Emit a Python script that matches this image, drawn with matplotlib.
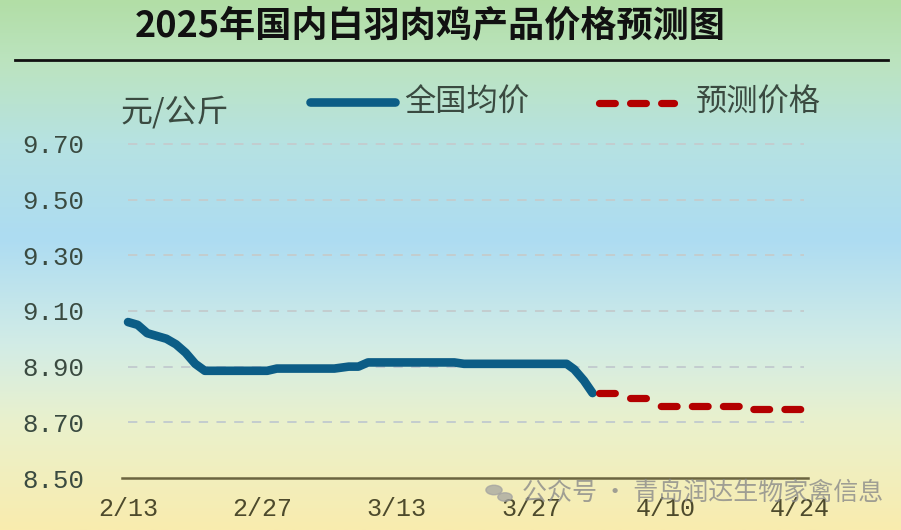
import matplotlib.pyplot as plt
import numpy as np
from matplotlib.lines import Line2D
from matplotlib.colors import LinearSegmentedColormap

plt.rcParams['font.family'] = ['Noto Sans CJK SC', 'DejaVu Sans']

# 数据：以 2/13 为第 0 天
blue_days = [0, 1, 2, 3, 4, 5, 6, 7, 8, 14.5, 15.5, 21.5, 23, 24, 25, 34, 35, 45.7, 46.5, 47.5, 48.4]
blue_vals = [9.06, 9.05, 9.02, 9.01, 9.00, 8.98, 8.95, 8.91, 8.885, 8.885, 8.893, 8.893,
             8.90, 8.90, 8.915, 8.915, 8.91, 8.91, 8.89, 8.85, 8.805]
# 预测价格：分段水平
pred_start = [48.4, 51.94, 55.0, 64.65]
pred_end = [51.94, 55.0, 64.65, 70.3]
pred_vals = [8.805, 8.787, 8.759, 8.748]

xtick_pos = [0, 14, 28, 42, 56, 70]
xtick_labels = ["2/13", "2/27", "3/13", "3/27", "4/10", "4/24"]
ytick_vals = [8.50, 8.70, 8.90, 9.10, 9.30, 9.50, 9.70]

fig = plt.figure(figsize=(9.01, 5.30), dpi=100)

# 背景渐变
bg = fig.add_axes([0, 0, 1, 1], zorder=0)
cmap = LinearSegmentedColormap.from_list("bg", [
    (0.00, "#b2dea6"),
    (0.12, "#bce4c0"),
    (0.27, "#b6e2e2"),
    (0.45, "#addcf2"),
    (0.65, "#d2ece6"),
    (0.80, "#eaf1cc"),
    (1.00, "#f9ecae"),
])
grad = np.linspace(0, 1, 256).reshape(-1, 1)
bg.imshow(grad, aspect="auto", cmap=cmap, extent=[0, 1, 0, 1], origin="upper")
bg.set_xlim(0, 1)
bg.set_ylim(0, 1)
bg.axis("off")

ax = fig.add_axes([122 / 901, 1 - 478 / 530, (808 - 122) / 901, (478 - 116) / 530], zorder=1)
ax.patch.set_alpha(0)
ax.set_xlim(-0.63, 70.85)
ax.set_ylim(8.50, 9.80)

ax.plot(blue_days, blue_vals, color="#0c5d86", lw=6.2, solid_capstyle="round",
        solid_joinstyle="round", zorder=3)

# 虚线相位按像素位置对齐
red_lw = 5.2
lw_px = red_lw * 100 / 72
dash_on, dash_off = 2.19, 2.11
x_ref = ax.transData.transform((pred_start[0], 0))[0] + 6
for s, e, v in zip(pred_start, pred_end, pred_vals):
    xs = ax.transData.transform((s, v))[0]
    off = ((xs - x_ref) / lw_px) % (dash_on + dash_off)
    ax.plot([s, e], [v, v], color="#b30000", lw=red_lw, ls=(off, (dash_on, dash_off)),
            dash_capstyle="round", zorder=3)

for v in ytick_vals[1:]:
    ax.plot([0, 70.4], [v, v], color="#c3cdcf", lw=1.4, ls=(0, (4.8, 4.3)), zorder=1)

ax.set_xticks(xtick_pos)
ax.set_xticklabels(xtick_labels)
ax.set_yticks(ytick_vals)
ax.set_yticklabels([f"{v:.2f}" for v in ytick_vals])
ax.tick_params(axis="both", length=0)
ax.tick_params(axis="x", pad=14, labelsize=18, labelcolor="#4d4a2c")
ax.tick_params(axis="y", pad=27, labelsize=18.5, labelcolor="#3a4a40")
for lab in ax.get_xticklabels() + ax.get_yticklabels():
    lab.set_family("Liberation Mono")
for s in ["top", "right", "left"]:
    ax.spines[s].set_visible(False)
ax.spines["bottom"].set_color("#6b6440")
ax.spines["bottom"].set_linewidth(1.8)

# 标题和分隔线
fig.text(430 / 901, 1 - 26 / 530, "2025年国内白羽肉鸡产品价格预测图", ha="center", va="center",
         fontsize=26, fontweight="bold", color="#111111")
fig.add_artist(Line2D([15 / 901, 888 / 901], [1 - 60 / 530, 1 - 60 / 530], color="#111111", lw=2))

# 单位和图例
fig.text(120 / 901, 1 - 112 / 530, "元/公斤", ha="left", va="center", fontsize=23, color="#3a4a40")
fig.add_artist(Line2D([310 / 901, 395 / 901], [1 - 102 / 530, 1 - 102 / 530], color="#0c5d86",
                      lw=6.2, solid_capstyle="round"))
fig.text(404 / 901, 1 - 103 / 530, "全国均价", ha="left", va="center", fontsize=22.5, color="#3a4a40")
fig.add_artist(Line2D([598.6 / 901, 674.4 / 901], [1 - 103 / 530, 1 - 103 / 530], color="#b30000",
                      lw=red_lw, ls=(0, (dash_on, dash_off)), dash_capstyle="round"))
fig.text(696 / 901, 1 - 103 / 530, "预测价格", ha="left", va="center", fontsize=22.5, color="#3a4a40")

# 水印
fig.text(522 / 901, 1 - 493 / 530, "公众号 · 青岛润达生物家禽信息", ha="left", va="center",
         fontsize=18, color="#8a8a8a", alpha=0.8, zorder=5)
fig.patches.append(plt.Circle((494 / 901, 1 - 490 / 530), 0.009, transform=fig.transFigure,
                              color="#a0a0a0", alpha=0.7))
fig.patches.append(plt.Circle((505 / 901, 1 - 497 / 530), 0.008, transform=fig.transFigure,
                              color="#a0a0a0", alpha=0.7))

fig.savefig("out.png", dpi=100)
